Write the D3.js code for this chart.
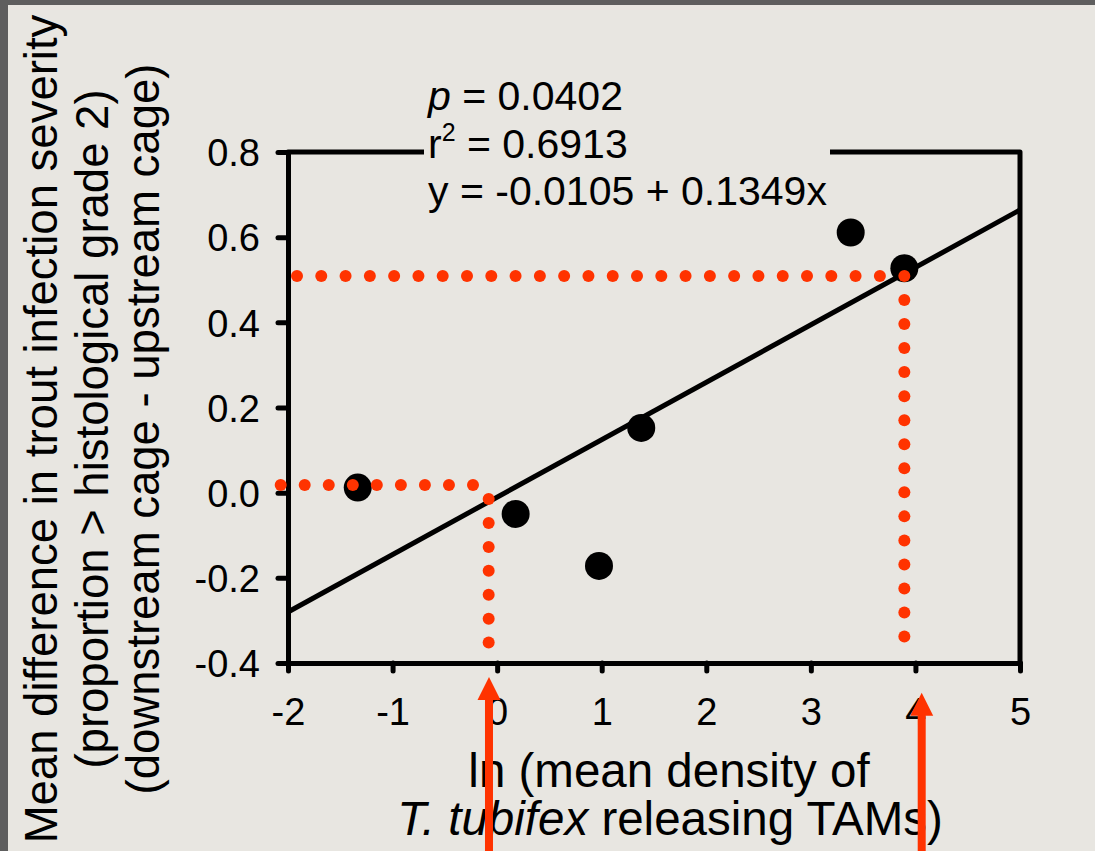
<!DOCTYPE html>
<html>
<head>
<meta charset="utf-8">
<script src="https://cdn.jsdelivr.net/npm/d3@7"></script>
<style>
  html, body { margin: 0; padding: 0; background: #e8e6e1; }
  svg { display: block; font-family: "Liberation Sans", Arial, sans-serif; }
</style>
</head>
<body>
<svg id="chart" width="1095" height="851"></svg>
<script>
// ---------------- data ----------------
const xTicks = [-2, -1, 0, 1, 2, 3, 4, 5];
const xTickLabels = ["-2", "-1", "0", "1", "2", "3", "4", "5"];
const yTicks = [-0.4, -0.2, 0, 0.2, 0.4, 0.6, 0.8];
const yTickLabels = ["-0.4", "-0.2", "0.0", "0.2", "0.4", "0.6", "0.8"];

const pointX = [-1.333, 0.177, 0.974, 1.378, 3.381, 3.894];
const pointY = [0.012, -0.050, -0.172, 0.152, 0.611, 0.527];

const fitIntercept = -0.0105;
const fitSlope = 0.1349;

const statP = "0.0402";
const statR2 = "0.6913";
const statEq = "y = -0.0105 + 0.1349x";

// red dotted guide segments (data units)
const guideFrom = [[-1.914, 0.509], [3.894, 0.509], [-2.070, 0.018], [-0.081, -0.015]];
const guideTo   = [[3.660, 0.509], [3.894, -0.338], [-0.231, 0.018], [-0.081, -0.352]];

// red arrows (x position and tip y in data units)
const arrowX = [-0.078, 4.06];
const arrowTipY = [-0.433, -0.470];

const yLabelLines = ["Mean difference in trout infection severity",
                     "(proportion > histological grade 2)",
                     "(downstream cage - upstream cage)"];

// ---------------- drawing ----------------
const W = 1095, H = 851;
const svg = d3.select("#chart");
const red = "#ff3300";

const x = d3.scaleLinear().domain([-2, 5]).range([288, 1020]);
const y = d3.scaleLinear().domain([-0.4, 0.8]).range([663, 152]);

// background + dark frame edges
svg.append("rect").attr("width", W).attr("height", H).attr("fill", "#e8e6e1");
svg.append("rect").attr("x", 0).attr("y", 0).attr("width", W).attr("height", 5).attr("fill", "#5e5e5e");
svg.append("rect").attr("x", 0).attr("y", 0).attr("width", 8).attr("height", H).attr("fill", "#5e5e5e");

const lw = 5;

// axes
const xAxis = d3.axisBottom(x).tickValues(xTicks)
  .tickFormat((d, i) => xTickLabels[i]).tickSize(8).tickSizeOuter(0).tickPadding(27);
const yAxis = d3.axisLeft(y).tickValues(yTicks)
  .tickFormat((d, i) => yTickLabels[i]).tickSize(10).tickSizeOuter(0).tickPadding(18);

const gx = svg.append("g").attr("transform", `translate(0,${y(-0.4)})`).call(xAxis);
const gy = svg.append("g").attr("transform", `translate(${x(-2)},0)`).call(yAxis);

[gx, gy].forEach(g => {
  g.select(".domain").attr("stroke", "#000").attr("stroke-width", lw).attr("stroke-linecap", "round");
  g.selectAll(".tick line").attr("stroke", "#000").attr("stroke-width", lw).attr("stroke-linecap", "round");
  g.selectAll(".tick text").attr("fill", "#000")
    .style("font-family", "'Liberation Sans', Arial, sans-serif").style("font-size", "38px");
});
gx.selectAll(".tick text").attr("dy", "0.71em");
gy.selectAll(".tick text").attr("dy", "0.36em");

// top and right frame
svg.append("path")
  .attr("d", `M${x(-2)},${y(0.8)}H${x(5)}V${y(-0.4)}`)
  .attr("fill", "none").attr("stroke", "#000").attr("stroke-width", lw)
  .attr("stroke-linejoin", "round").attr("stroke-linecap", "round");

// regression line
svg.append("line")
  .attr("x1", x(-2)).attr("y1", y(fitIntercept + fitSlope * -2))
  .attr("x2", x(5)).attr("y2", y(fitIntercept + fitSlope * 5))
  .attr("stroke", "#000").attr("stroke-width", lw);

// points
svg.append("g").selectAll("circle")
  .data(pointX.map((v, i) => [v, pointY[i]]))
  .join("circle")
  .attr("cx", d => x(d[0])).attr("cy", d => y(d[1])).attr("r", 14)
  .attr("fill", "#000");

// red dotted guides
const gGuides = svg.append("g");
guideFrom.forEach((f, i) => {
  const t = guideTo[i];
  const x0 = x(f[0]), y0 = y(f[1]), x1 = x(t[0]), y1 = y(t[1]);
  const L = Math.hypot(x1 - x0, y1 - y0);
  const n = Math.round(L / 24);
  const dots = d3.range(n + 1).map(k => [x0 + (x1 - x0) * k / n, y0 + (y1 - y0) * k / n]);
  gGuides.selectAll(null).data(dots).join("circle")
    .attr("cx", d => d[0]).attr("cy", d => d[1]).attr("r", 6).attr("fill", red);
});

// statistics box
const ax = 428;
svg.append("rect").attr("x", 424).attr("y", 80).attr("width", 406).attr("height", 135).attr("fill", "#e8e6e1");
const stat = svg.append("g").style("font-size", "41px").attr("fill", "#000");
const t1 = stat.append("text").attr("x", ax).attr("y", 110);
t1.append("tspan").style("font-style", "italic").text("p");
t1.append("tspan").text(" = " + statP);
const t2 = stat.append("text").attr("x", ax).attr("y", 158);
t2.append("tspan").text("r");
t2.append("tspan").style("font-size", "25px").attr("dy", -17).text("2");
t2.append("tspan").attr("dy", 17).text(" = " + statR2);
stat.append("text").attr("x", ax).attr("y", 205).text(statEq);

// y-axis label
const yl = svg.append("g").style("font-size", "45.5px").attr("fill", "#000");
const yBase = [57, 107.5, 158.5];
yLabelLines.forEach((s, i) => {
  yl.append("text").attr("transform", `translate(${yBase[i]},429) rotate(-90)`)
    .attr("text-anchor", "middle").text(s);
});

// x-axis label
const xl = svg.append("g").style("font-size", "47.5px").attr("fill", "#000").attr("text-anchor", "middle");
xl.append("text").attr("x", 669).attr("y", 787).text("ln (mean density of");
const xl2 = xl.append("text").attr("x", 670).attr("y", 835);
xl2.append("tspan").style("font-style", "italic").text("T. tubifex");
xl2.append("tspan").text(" releasing TAMs)");

// red arrows
const gArrows = svg.append("g");
arrowX.forEach((ax0, i) => {
  const cx = x(ax0), tip = y(arrowTipY[i]);
  const headH = 23, headW = 23, shaft = 8;
  gArrows.append("rect").attr("x", cx - shaft / 2).attr("y", tip + headH - 1)
    .attr("width", shaft).attr("height", H - tip).attr("fill", red);
  gArrows.append("path")
    .attr("d", `M${cx},${tip}L${cx + headW / 2},${tip + headH}L${cx - headW / 2},${tip + headH}Z`)
    .attr("fill", red);
});
</script>
</body>
</html>
